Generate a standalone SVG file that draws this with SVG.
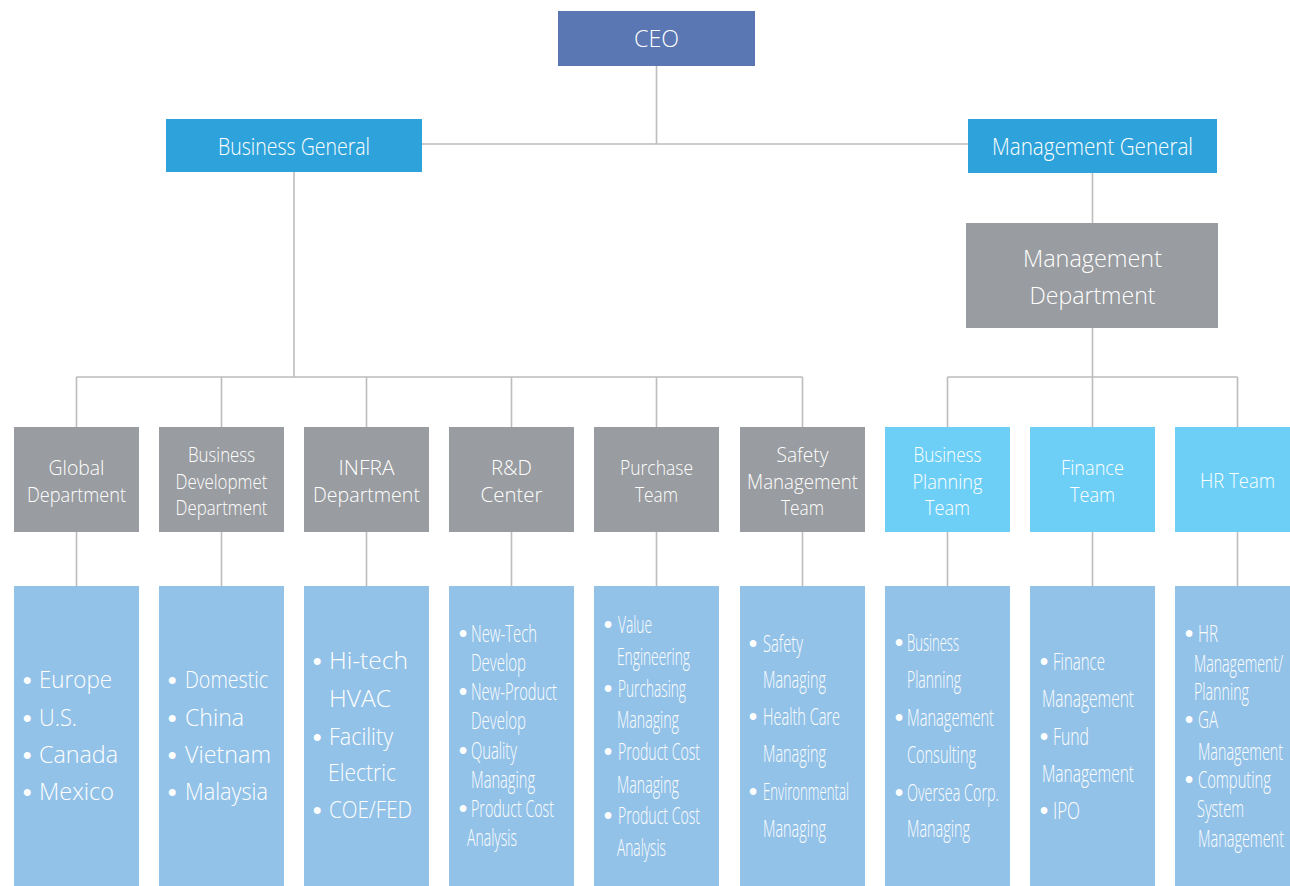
<svg xmlns="http://www.w3.org/2000/svg" width="1290" height="886" viewBox="0 0 1290 886">
<style>
.ln{stroke:#bcbcbc;stroke-width:1.6;fill:none}
.t{font-family:"Open Sans","Noto Sans","Liberation Sans",sans-serif;fill:#ffffff;font-weight:300}
.c{text-anchor:middle}
.top{font-size:24px}
.r2{font-size:21px}
.b{font-size:23px}
.b24{font-size:24px}
.bl{font-weight:700;font-family:"Liberation Sans",sans-serif}
.ceo{fill:#5a76b3}
.gen{fill:#2ea3db}
.gray{fill:#999ca0}
.cyan{fill:#6dcff6}
.lb{fill:#93c2e8}
</style>
<rect width="1290" height="886" fill="#ffffff"/>
<g id="connectors">
<path class="ln" d="M656.5 66V144M422 144H968M294 172V377M76.5 377H802.5M76.5 377V427M221.5 377V427M366.5 377V427M511.5 377V427M656.5 377V427M802.5 377V427M1092.5 173V223M1092.5 328V377M947.5 377H1237.5M947.5 377V427M1092.5 377V427M1237.5 377V427"/>
<path class="ln" d="M76.5 532V586M221.5 532V586M366.5 532V586M511.5 532V586M656.5 532V586M802.5 532V586M947.5 532V586M1092.5 532V586M1237.5 532V586"/>
</g>
<g id="ceo"><rect class="ceo" x="558" y="11" width="197" height="55"/><text class="t top c" x="656.5" y="47" textLength="45" lengthAdjust="spacingAndGlyphs">CEO</text></g>
<g id="business-general"><rect class="gen" x="166" y="119" width="256" height="53"/><text class="t top c" x="294" y="155" textLength="152" lengthAdjust="spacingAndGlyphs">Business General</text></g>
<g id="management-general"><rect class="gen" x="968" y="119" width="249" height="54"/><text class="t top c" x="1092.5" y="155" textLength="201" lengthAdjust="spacingAndGlyphs">Management General</text></g>
<g id="management-department"><rect class="gray" x="966" y="223" width="252" height="105"/><text class="t top c" x="1092.5" y="267" textLength="139" lengthAdjust="spacingAndGlyphs">Management</text><text class="t top c" x="1092.5" y="304" textLength="126" lengthAdjust="spacingAndGlyphs">Department</text></g>

<g id="global-department"><rect class="gray" x="14" y="427" width="125" height="105"/><text class="t r2 c" x="76.5" y="475" textLength="56" lengthAdjust="spacingAndGlyphs">Global</text><text class="t r2 c" x="76.5" y="502" textLength="99" lengthAdjust="spacingAndGlyphs">Department</text></g>
<g id="business-development-department"><rect class="gray" x="159" y="427" width="125" height="105"/><text class="t r2 c" x="221.5" y="462" textLength="67" lengthAdjust="spacingAndGlyphs">Business</text><text class="t r2 c" x="221.5" y="489" textLength="92" lengthAdjust="spacingAndGlyphs">Developmet</text><text class="t r2 c" x="221.5" y="515" textLength="92" lengthAdjust="spacingAndGlyphs">Department</text></g>
<g id="infra-department"><rect class="gray" x="304" y="427" width="125" height="105"/><text class="t r2 c" x="366.5" y="475" textLength="56" lengthAdjust="spacingAndGlyphs">INFRA</text><text class="t r2 c" x="366.5" y="502" textLength="107" lengthAdjust="spacingAndGlyphs">Department</text></g>
<g id="rd-center"><rect class="gray" x="449" y="427" width="125" height="105"/><text class="t r2 c" x="511.5" y="475" textLength="41" lengthAdjust="spacingAndGlyphs">R&amp;D</text><text class="t r2 c" x="511.5" y="502" textLength="62" lengthAdjust="spacingAndGlyphs">Center</text></g>
<g id="purchase-team"><rect class="gray" x="594" y="427" width="125" height="105"/><text class="t r2 c" x="656.5" y="475" textLength="73" lengthAdjust="spacingAndGlyphs">Purchase</text><text class="t r2 c" x="656.5" y="502" textLength="43" lengthAdjust="spacingAndGlyphs">Team</text></g>
<g id="safety-management-team"><rect class="gray" x="740" y="427" width="125" height="105"/><text class="t r2 c" x="802.5" y="462" textLength="52" lengthAdjust="spacingAndGlyphs">Safety</text><text class="t r2 c" x="802.5" y="489" textLength="111" lengthAdjust="spacingAndGlyphs">Management</text><text class="t r2 c" x="802.5" y="515" textLength="43" lengthAdjust="spacingAndGlyphs">Team</text></g>
<g id="business-planning-team"><rect class="cyan" x="885" y="427" width="125" height="105"/><text class="t r2 c" x="947.5" y="462" textLength="68" lengthAdjust="spacingAndGlyphs">Business</text><text class="t r2 c" x="947.5" y="489" textLength="70" lengthAdjust="spacingAndGlyphs">Planning</text><text class="t r2 c" x="947.5" y="515" textLength="45" lengthAdjust="spacingAndGlyphs">Team</text></g>
<g id="finance-team"><rect class="cyan" x="1030" y="427" width="125" height="105"/><text class="t r2 c" x="1092.5" y="475" textLength="63" lengthAdjust="spacingAndGlyphs">Finance</text><text class="t r2 c" x="1092.5" y="502" textLength="45" lengthAdjust="spacingAndGlyphs">Team</text></g>
<g id="hr-team"><rect class="cyan" x="1175" y="427" width="115" height="105"/><text class="t r2 c" x="1237.5" y="488" textLength="75" lengthAdjust="spacingAndGlyphs">HR Team</text></g>

<g id="global-list"><rect class="lb" x="14" y="586" width="125" height="300"/>
<g class="t b24"><text class="bl" x="23" y="688">•</text><text x="39" y="688" textLength="73" lengthAdjust="spacingAndGlyphs">Europe</text><text class="bl" x="23" y="726">•</text><text x="39" y="726" textLength="38" lengthAdjust="spacingAndGlyphs">U.S.</text><text class="bl" x="23" y="763">•</text><text x="39" y="763" textLength="79" lengthAdjust="spacingAndGlyphs">Canada</text><text class="bl" x="23" y="800">•</text><text x="39" y="800" textLength="75" lengthAdjust="spacingAndGlyphs">Mexico</text></g></g>
<g id="business-development-list"><rect class="lb" x="159" y="586" width="125" height="300"/>
<g class="t b24"><text class="bl" x="168" y="688">•</text><text x="185" y="688" textLength="83" lengthAdjust="spacingAndGlyphs">Domestic</text><text class="bl" x="168" y="726">•</text><text x="185" y="726" textLength="59" lengthAdjust="spacingAndGlyphs">China</text><text class="bl" x="168" y="763">•</text><text x="185" y="763" textLength="86" lengthAdjust="spacingAndGlyphs">Vietnam</text><text class="bl" x="168" y="800">•</text><text x="185" y="800" textLength="83" lengthAdjust="spacingAndGlyphs">Malaysia</text></g></g>
<g id="infra-list"><rect class="lb" x="304" y="586" width="125" height="300"/>
<g class="t b24"><text class="bl" x="313" y="669">•</text><text x="329" y="669" textLength="79" lengthAdjust="spacingAndGlyphs">Hi-tech</text><text x="329" y="707" textLength="62" lengthAdjust="spacingAndGlyphs">HVAC</text><text class="bl" x="313" y="745">•</text><text x="329" y="745" textLength="64" lengthAdjust="spacingAndGlyphs">Facility</text><text x="328" y="781" textLength="68" lengthAdjust="spacingAndGlyphs">Electric</text><text class="bl" x="313" y="818">•</text><text x="329" y="818" textLength="83" lengthAdjust="spacingAndGlyphs">COE/FED</text></g></g>
<g id="rd-list"><rect class="lb" x="449" y="586" width="125" height="300"/>
<g class="t b"><text class="bl" x="459" y="642">•</text><text x="471" y="642" textLength="66" lengthAdjust="spacingAndGlyphs">New-Tech</text><text x="471" y="671" textLength="55" lengthAdjust="spacingAndGlyphs">Develop</text><text class="bl" x="459" y="700">•</text><text x="471" y="700" textLength="86" lengthAdjust="spacingAndGlyphs">New-Product</text><text x="471" y="729" textLength="55" lengthAdjust="spacingAndGlyphs">Develop</text><text class="bl" x="459" y="759">•</text><text x="471" y="759" textLength="46" lengthAdjust="spacingAndGlyphs">Quality</text><text x="471" y="788" textLength="64" lengthAdjust="spacingAndGlyphs">Managing</text><text class="bl" x="459" y="817">•</text><text x="471" y="817" textLength="83" lengthAdjust="spacingAndGlyphs">Product Cost</text><text x="467" y="846" textLength="50" lengthAdjust="spacingAndGlyphs">Analysis</text></g></g>
<g id="purchase-list"><rect class="lb" x="594" y="586" width="125" height="300"/>
<g class="t b"><text class="bl" x="604" y="633">•</text><text x="618" y="633" textLength="34" lengthAdjust="spacingAndGlyphs">Value</text><text x="617" y="665" textLength="73" lengthAdjust="spacingAndGlyphs">Engineering</text><text class="bl" x="604" y="697">•</text><text x="618" y="697" textLength="68" lengthAdjust="spacingAndGlyphs">Purchasing</text><text x="617" y="728" textLength="62" lengthAdjust="spacingAndGlyphs">Managing</text><text class="bl" x="604" y="760">•</text><text x="618" y="760" textLength="82" lengthAdjust="spacingAndGlyphs">Product Cost</text><text x="617" y="793" textLength="62" lengthAdjust="spacingAndGlyphs">Managing</text><text class="bl" x="604" y="824">•</text><text x="618" y="824" textLength="82" lengthAdjust="spacingAndGlyphs">Product Cost</text><text x="617" y="856" textLength="49" lengthAdjust="spacingAndGlyphs">Analysis</text></g></g>
<g id="safety-list"><rect class="lb" x="740" y="586" width="125" height="300"/>
<g class="t b"><text class="bl" x="749" y="652">•</text><text x="763" y="652" textLength="40" lengthAdjust="spacingAndGlyphs">Safety</text><text x="763" y="688" textLength="63" lengthAdjust="spacingAndGlyphs">Managing</text><text class="bl" x="749" y="725">•</text><text x="763" y="725" textLength="77" lengthAdjust="spacingAndGlyphs">Health Care</text><text x="763" y="762" textLength="63" lengthAdjust="spacingAndGlyphs">Managing</text><text class="bl" x="749" y="800">•</text><text x="763" y="800" textLength="86" lengthAdjust="spacingAndGlyphs">Environmental</text><text x="763" y="837" textLength="63" lengthAdjust="spacingAndGlyphs">Managing</text></g></g>
<g id="business-planning-list"><rect class="lb" x="885" y="586" width="125" height="300"/>
<g class="t b"><text class="bl" x="895" y="651">•</text><text x="907" y="651" textLength="52" lengthAdjust="spacingAndGlyphs">Business</text><text x="907" y="688" textLength="54" lengthAdjust="spacingAndGlyphs">Planning</text><text class="bl" x="895" y="726">•</text><text x="907" y="726" textLength="87" lengthAdjust="spacingAndGlyphs">Management</text><text x="907" y="763" textLength="69" lengthAdjust="spacingAndGlyphs">Consulting</text><text class="bl" x="895" y="801">•</text><text x="907" y="801" textLength="92" lengthAdjust="spacingAndGlyphs">Oversea Corp.</text><text x="907" y="837" textLength="63" lengthAdjust="spacingAndGlyphs">Managing</text></g></g>
<g id="finance-list"><rect class="lb" x="1030" y="586" width="125" height="300"/>
<g class="t b"><text class="bl" x="1040" y="670">•</text><text x="1053" y="670" textLength="52" lengthAdjust="spacingAndGlyphs">Finance</text><text x="1042" y="707" textLength="92" lengthAdjust="spacingAndGlyphs">Management</text><text class="bl" x="1040" y="745">•</text><text x="1053" y="745" textLength="36" lengthAdjust="spacingAndGlyphs">Fund</text><text x="1042" y="782" textLength="92" lengthAdjust="spacingAndGlyphs">Management</text><text class="bl" x="1040" y="819">•</text><text x="1053" y="819" textLength="27" lengthAdjust="spacingAndGlyphs">IPO</text></g></g>
<g id="hr-list"><rect class="lb" x="1175" y="586" width="115" height="300"/>
<g class="t b"><text class="bl" x="1185" y="642">•</text><text x="1198" y="642" textLength="20" lengthAdjust="spacingAndGlyphs">HR</text><text x="1194" y="672" textLength="89" lengthAdjust="spacingAndGlyphs">Management/</text><text x="1194" y="700" textLength="55" lengthAdjust="spacingAndGlyphs">Planning</text><text class="bl" x="1185" y="728">•</text><text x="1198" y="728" textLength="20" lengthAdjust="spacingAndGlyphs">GA</text><text x="1198" y="760" textLength="85" lengthAdjust="spacingAndGlyphs">Management</text><text class="bl" x="1185" y="788">•</text><text x="1198" y="788" textLength="73" lengthAdjust="spacingAndGlyphs">Computing</text><text x="1197" y="817" textLength="47" lengthAdjust="spacingAndGlyphs">System</text><text x="1198" y="847" textLength="86" lengthAdjust="spacingAndGlyphs">Management</text></g></g>
</svg>
